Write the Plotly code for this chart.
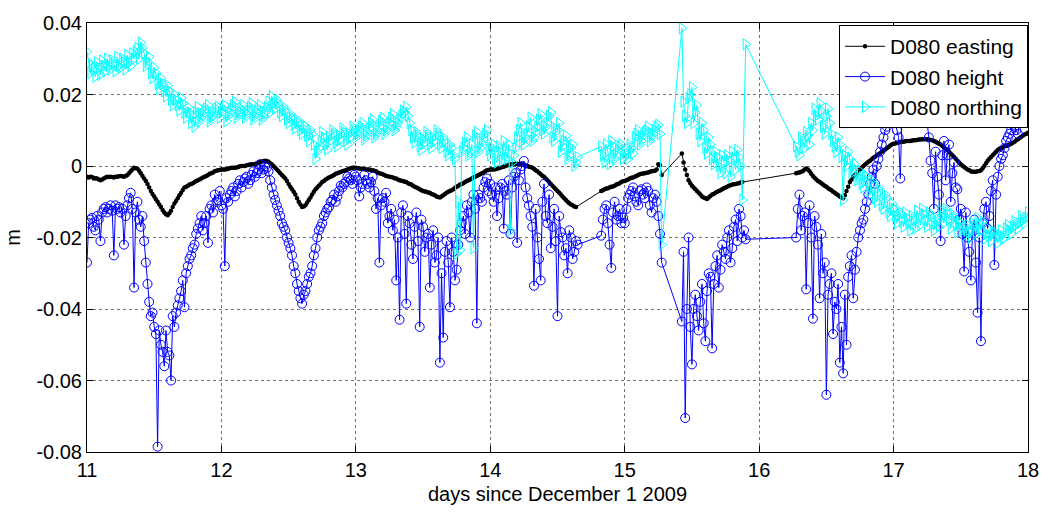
import plotly.graph_objects as go

# GPS station D080 displacement in millimetres. Each series is stored as one row per day
# (days 11..17) at 0.025-day epochs, plus a second set of rows at the half-step epochs
# in between. None marks epochs without a solution.
first_day = 11
step_days = 0.025

easting_mm = [
    [-3, -3, -3.5, -3.5, -4, -3.5, -3, -3, -3.2, -3, -2.8, -3, -2.5, -1.5, -0.5, -0.8, -2, -3.5, -5, -7,
     -8.5, -10, -11.5, -13, -13.8, -12.5, -10.5, -9, -7.5, -6, -5.5, -5, -4.5, -4, -3.5, -3, -2.5, -2, -1.5, -1.2],
    [-1, -1, -0.8, -0.5, -0.5, -0.3, 0, 0, 0.3, 0.5, 0.5, 1, 1.2, 1.5, 1.2, 0.5, -0.5, -1.5, -2.5, -3.5,
     -5, -6.5, -8, -10, -11.5, -11, -9.5, -8, -6.5, -5.5, -4.5, -3.8, -3.2, -2.8, -2.2, -1.8, -1.5, -1.2, -0.8, -0.5],
    [-0.5, -0.7, -0.8, -1, -1, -1.2, -1.5, -2, -2.3, -2.8, -3, -3.2, -3.5, -4, -4.2, -4.5, -5, -5.5, -6, -6.5,
     -7, -7.2, -7.5, -8, -8.5, -8.8, -8.2, -7.5, -7, -6.5, -5.8, -5.2, -4.8, -4.2, -3.8, -3.2, -2.8, -2.3, -1.8, -1.2],
    [-1, -1, -0.8, -0.5, -0.2, 0.2, 0.5, 0.5, 0.6, 0.5, 0.3, 0, -0.3, -0.8, -1.5, -2.3, -3, -4, -5, -6,
     -7, -8, -9, -10, -10.8, -11.3, None, None, None, None, None, None, None, -7, -6.5, -6.2, -5.8, -5.5, -5, -4.5],
    [-4.2, -3.8, -3.3, -3, -2.5, -2.2, -2, -1.8, -1.5, -1.3, 0.5, -2.5, None, None, None, None, None, 3.5, -1, -4,
     -5.5, -6.5, -7.5, -8.5, -9, -8.8, -8, -7.5, -7, -6.5, -6, -5.5, -5.2, -5, -4.8, -4.5, None, None, None, None],
    [None, None, None, None, None, None, None, None, None, None, None, -2, -1.8, -1.5, -0.7, -1.5, -2.8, -3.8, -4.5, -5.2,
     -5.8, -6.5, -7.2, -7.8, -8.5, -9, -7, -4.5, -3, -2, -1, 0, 0.8, 1.5, 2.3, 3, 3.6, 4.3, 5, 5.7],
    [6.2, 6.5, 6.7, 6.8, 7, 7, 7.2, 7.3, 7.4, 7.5, 7.5, 7.3, 7, 6.5, 6, 5.2, 4.5, 3.5, 2.5, 1.5,
     0.5, -0.3, -1, -1.5, -1.6, -1.5, -1.2, 0, 1.5, 2.5, 3.5, 4.5, 5, 5.5, 5.8, 6.2, 6.8, 7.5, 8.2, 8.8],
    [9.3],
]

easting_mid_mm = [
    [-3.2, -3.1, -3.4, -3.8, -3.8, -3.2, -3.1, -3.1, -3, -2.9, -2.9, -2.8, -2, -1, -0.6, -1.3, -2.8, -4.2, -6, -7.8,
     -9.3, -10.8, -12.3, -13.5, -13.2, -11.5, -9.8, -8.2, -6.7, -5.8, -5.2, -4.8, -4.2, -3.8, -3.2, -2.8, -2.2, -1.8, -1.3, -1.1],
    [-1, -0.9, -0.6, -0.5, -0.4, -0.1, 0, 0.2, 0.4, 0.5, 0.8, 1.1, 1.4, 1.4, 0.8, 0, -1, -2, -3, -4.2,
     -5.8, -7.2, -9, -10.8, -11.3, -10.2, -8.8, -7.2, -6, -5, -4.2, -3.5, -3, -2.5, -2, -1.7, -1.3, -1, -0.6, -0.5],
    [-0.6, -0.8, -0.9, -1, -1.1, -1.3, -1.8, -2.2, -2.5, -2.9, -3.1, -3.4, -3.8, -4.1, -4.4, -4.8, -5.2, -5.8, -6.2, -6.8,
     -7.1, -7.4, -7.8, -8.2, -8.7, -8.5, -7.8, -7.2, -6.8, -6.1, -5.5, -5, -4.5, -4, -3.5, -3, -2.5, -2, -1.5, -1.1],
    [-1, -0.9, -0.6, -0.3, 0, 0.3, 0.5, 0.6, 0.5, 0.4, 0.1, -0.2, -0.5, -1.2, -1.9, -2.7, -3.5, -4.5, -5.5, -6.5,
     -7.5, -8.5, -9.5, -10.4, -11, -11.5, None, None, None, None, None, None, None, -6.8, -6.3, -6, -5.7, -5.2, -4.8, -4.3],
    [-4, -3.5, -3.2, -2.8, -2.3, -2.1, -1.9, -1.6, -1.4, -1, 0.2, None, None, None, None, None, None, 1, -2.5, -4.8,
     -6, -7, -8, -8.8, -9.2, -8.4, -7.8, -7.2, -6.8, -6.2, -5.8, -5.4, -5.1, -4.9, -4.6, None, None, None, None, None],
    [None, None, None, None, None, None, None, None, None, None, None, -1.9, -1.6, -1, -1, -2.2, -3.3, -4.2, -4.8, -5.5,
     -6.2, -6.8, -7.5, -8.2, -8.8, -8.2, -5.8, -3.8, -2.5, -1.5, -0.5, 0.4, 1.2, 1.9, 2.6, 3.3, 4, 4.6, 5.3, 6],
    [6.3, 6.6, 6.8, 6.9, 7, 7.1, 7.2, 7.4, 7.5, 7.5, 7.4, 7.2, 6.8, 6.2, 5.6, 4.8, 4, 3, 2, 1,
     0.1, -0.6, -1.2, -1.6, -1.6, -1.4, -0.6, 0.8, 2, 3, 4, 4.8, 5.2, 5.6, 6, 6.5, 7.2, 7.8, 8.5, 9],
]

height_mm = [
    [-27, -15, -17, -14, -21, -12, -13, -11, -25, -12, -13, -22, -11, -7.5, -34, -10, -17, -21, -33, -42,
     -45, -78.5, -50, -56, -52, -60, -45, -39, -35, -39.5, -28, -25, -22, -17.5, -14, -16, -21.5, -11, -8, -9.5],
    [-11, -28, -10, -7, -8.5, -5, -6, -3.5, -5, -2.5, -3, -1, -2, 0, -1.5, -6, -9.5, -12.5, -16, -18,
     -21.5, -25, -30, -35, -38.5, -35, -31, -28, -23, -18, -16, -13, -11.5, -9.5, -10, -7, -6, -4.5, -3.5, -5],
    [-3, -8.5, -5, -4, -6, -3, -12, -27, -9, -7.5, -14, -18, -32, -43, -11, -38.5, -16, -26, -13, -45,
     -17, -20, -34, -18, -25, -55, -48, -21, -39.5, -24, -29, -18, -14, -11, -20, -8, -44, -9, -6, -3.5],
    [-5, -10, -14, -6, -17.5, -8, -19, -3, -21.5, -1, 1.4, -9, -14, -33.5, -20, -32, -5, -16, -23, -12,
     -42, -18.5, -25, -30, -20, -24, -22, None, None, None, None, None, None, -19.5, -12, -16, -28.5, -10, -14, -16],
    [-16, -9, -7, -8.5, -11, -6.5, -9, -7, -13, -8, -14, -27, None, None, None, None, None, -43.5, -70.5, -20,
     -55.5, -36, -46, -33, -49, -30, -51, -28, -34, -22, -26, -18, -23, -15, -12, -20, -20.5, None, None, None],
    [None, None, None, None, None, None, None, None, None, None, None, -20, -8, -14, -34.5, -11, -42.7, -17, -37, -30,
     -64, -33, -47, -40, -55, -58, -50, -28, -37, -24, -18, -15, -10, -5, -1, 0, 4, 8, 11, 13],
    [13, 10, -3.5, 14, 13, 15, 14, 13, 15, 13.5, 12, 1.5, -12, -3, -21, 7, 3, -10, 1, -6.5,
     -12, -29.5, -20, -32, -15, -41, -49, -12, -17.5, -7, -27.7, -3, 2, 5, 8, 10, 11, 9, 13, 14],
    [16],
]

height_mid_mm = [
    [-16, -14.5, -18, -15, -13, -11.5, -12, -12.5, -11, -11.5, -12, -14, -9, -12, -13, -15, -14, -27, -38, -41,
     -47, -46, -52, -46, -53, -42, -41, -37, -32, -30, -26, -23, -19, -16, -18, -14, -12, -13, -10, -7],
    [-12, -9, -8, -6, -7, -4, -4.5, -3, -4, -1.5, -2, 0.5, -1, -0.5, -4, -8, -11, -14, -17, -20,
     -23, -28, -33, -37, -36, -33, -30, -25, -20, -17, -14, -12, -10, -8, -8.5, -5.5, -5, -3, -4, -2.5],
    [-4, -6, -2.5, -5, -4.5, -7, -9, -11, -10, -16, -12, -15, -20, -13, -19, -14, -22, -17, -21, -15,
     -24, -19, -22, -27, -20, -30, -24, -27, -20, -32, -22, -16, -19, -13, -10, -12, -8, -10, -4.5, -7],
    [-8, -6, -9, -5, -7, -4, -6, -2, -4, 0, -6, -11, -17, -12, -26, -10, -14, -8, -17, -21,
     -14, -20, -23, -18, -26, -21, None, None, None, None, None, None, None, -15, -11, -22, -13, -15, -12, -14.5],
    [-12, -8, -6, -10, -7, -8, -6, -11, -9, -10, -19, None, None, None, None, None, None, -24, -40, -45,
     -40, -42, -38, -44, -35, -31, -33, -25, -29, -24, -20, -27, -17, -21, -14, -18, None, None, None, None],
    [None, None, None, None, None, None, None, None, None, None, None, -12, -18, -13, -16, -20, -14, -22, -19, -27,
     -36, -30, -38, -33, -45, -36, -31, -25, -29, -20, -16, -12, -8, -3, -5, 2, 6, 10, 12, 14],
    [12, 8, 14.5, 12.5, 14, 15.5, 13, 14.5, 14, 15, 8, -2, 4, -8, 3, -4, 6, -2, -6, -15,
     -19, -13, -24, -18, -27, -20, -16, -10, -14, -4, -8, 0, 3, 7, 9, 11.5, 10, 12, 15, 12],
]

northing_mm = [
    [32, 26, 27, 29, 25.5, 28, 30, 27, 28.5, 30.5, 27.5, 29, 31, 28, 30, 33, 34.5, 31.5, 29, 26,
     27.5, 23, 24.5, 21, 22.5, 18.5, 20, 17, 19, 15, 16.5, 12, 11, 16.5, 13.5, 15.5, 17, 13.5, 15, 16.5],
    [15, 17, 14, 16, 18, 14.5, 16, 13.5, 15.5, 17.5, 14, 16, 13, 15, 18, 19.5, 16, 17.5, 14, 15.5,
     12, 13.5, 10.5, 12, 9, 11, 7, 9, 2, 5, 9.5, 6, 8, 10, 6.5, 8.5, 10.5, 7, 9, 11],
    [8, 10, 12, 8.5, 10.5, 13, 9, 11, 13.5, 10, 12, 14.5, 11, 13, 15.5, 16.5, 12, 8, 9.5, 5.5,
     7.5, 9.5, 6, 8, 10, 6, 8, 4, 6, 3, -24.5, -23.5, 5, 8, 4, -23, 9.5, 5, 7.5, 10],
    [3, 6, 1, 4, 7, 2, -18, 3, 8, 12, 6, 9, 13.5, 8, 11, 14.5, 9, 12, 15, 7,
     10, 4, 7, 2, 5, 0, 2.5, None, None, None, None, None, None, 5.5, 1, 4, 7, 2, 4.5, 6],
    [4, 2, 5, 8, 10, 7, 9.5, 11, 8, 10, 11.5, -22, None, None, None, None, None, 38.5, 14, 19,
     22, 15, 9, 12, 5, 8, 2, 4, 0, 3, -2, 1.5, 4, -1, 2.5, -9.5, 34, None, None, None],
    [None, None, None, None, None, None, None, None, None, None, None, 5.5, 3, 7, 9.5, 6, 10, 14, 17.5, 11,
     14, 12, 7, 4, 6, -9.5, 0, 2, -1, -4, -1.5, -6, -3, -8, -5, -10, -7, -12, -9, -14],
    [-12, -16, -13.5, -17, -14.5, -18, -15, -12.5, -16.5, -13.5, -17, -14, -18, -15.5, -12.5, -16, -13, -17.5, -14.5, -18.5,
     -16, -19.5, -16.5, -20, -17, -14.5, -18, -20.5, -17.5, -21, -18.5, -21.5, -18, -20, -16.5, -19, -15.5, -17.5, -14, -16],
    [-13],
]

northing_mid_mm = [
    [29, 28, 25, 27.5, 29.5, 26.5, 28, 29.5, 26.5, 28, 30, 27, 29, 31.5, 32, 30, 33, 28, 30.5, 24.5,
     26, 21.5, 23, 19.5, 21, 17, 18.5, 15.5, 17.5, 13.5, 15, 14, 15, 12.5, 14.5, 16, 12.5, 14, 16, 13.5],
    [16, 12.5, 15, 17, 13.5, 15, 17, 14.5, 16.5, 13, 15, 17, 14, 16.5, 15, 17.5, 18.5, 15, 16.5, 13,
     14.5, 11.5, 13, 10, 11.5, 8.5, 10, 6, 4, 7, 8, 4.5, 7, 9, 5.5, 7.5, 9.5, 6, 8, 10],
    [9, 11, 7.5, 9.5, 12, 8, 10, 12.5, 9, 11, 13.5, 10, 12, 14, 15, 14, 10, 6.5, 8.5, 4.5,
     6.5, 8.5, 5, 7, 9, 5, 7, 3, 5, 2, -10, 4, 6.5, 3, 6, 8.5, 4, 6.5, 9, 4.5],
    [5, 2, 5.5, 1.5, 4.5, 6, 1, 5, 10, 7, 8, 11, 7, 9.5, 13, 10, 11, 14, 8, 10.5,
     12, 5.5, 8.5, 3, 6, 1, None, None, None, None, None, None, None, 3, 6, 0.5, 5.5, 3, 5.5, 2],
    [3, 6, 3.5, 9, 6, 8.5, 10, 7, 9, 11, 9, None, None, None, None, None, None, 18, 12, 20,
     12, 17, 7, 10, 3.5, 6, 0.5, 2.5, -2, 1, 3, -3, 2, 4.5, 0, None, None, None, None, None],
    [None, None, None, None, None, None, None, None, None, None, None, 4, 8, 5, 8.5, 12, 16, 13, 15.5, 9,
     16, 9, 5.5, 8, 2.5, 3, 4, -2, 0.5, -3, -5, -2.5, -7, -4, -9, -6, -11, -8, -13, -10.5],
    [-14, -12.5, -15.5, -13, -16, -14, -17.5, -14.5, -12, -15, -13, -16.5, -14.5, -17, -14, -12, -15, -13.5, -16.5, -15.5,
     -18, -17, -18.5, -16, -19, -16, -15.5, -19, -19.5, -18.5, -20, -19.5, -20.5, -17.5, -18, -17, -16.5, -16, -15, -14.5],
]

y_ticks = [-0.08, -0.06, -0.04, -0.02, 0, 0.02, 0.04]
y_tick_text = ["-0.08", "-0.06", "-0.04", "-0.02", "0", "0.02", "0.04"]
x_ticks = [11, 12, 13, 14, 15, 16, 17, 18]


def to_points(rows, offset):
    """Per-day rows -> list of (day, metres) pairs."""
    pts = []
    for i, row in enumerate(rows):
        for k, v in enumerate(row):
            day = round(first_day + i + offset + k * step_days, 5)
            pts.append((day, None if v is None else v / 1000.0))
    return pts


def merged(main_rows, mid_rows):
    pts = to_points(main_rows, 0.0) + to_points(mid_rows, step_days / 2)
    pts.sort(key=lambda p: p[0])
    return [p[0] for p in pts], [p[1] for p in pts]


FONT = "Liberation Sans, Arial, sans-serif"

fig = go.Figure()

series = [
    ("D080 easting", easting_mm, easting_mid_mm, "#000000",
     dict(symbol="circle", size=4.5, color="#000000")),
    ("D080 height", height_mm, height_mid_mm, "#0000ff",
     dict(symbol="circle-open", size=9, color="#0000ff", line=dict(width=1, color="#0000ff"))),
    ("D080 northing", northing_mm, northing_mid_mm, "#00ffff",
     dict(symbol="triangle-right-open", size=10, color="#00ffff", line=dict(width=1, color="#00ffff"))),
]

for name, rows, mids, color, marker in series:
    d, v = merged(rows, mids)
    fig.add_trace(go.Scatter(
        x=d, y=v, name=name, mode="lines+markers",
        line=dict(color=color, width=1), marker=marker,
        connectgaps=True,
    ))

axis_common = dict(
    showline=True, linecolor="black", linewidth=1, mirror="ticks",
    ticks="inside", ticklen=6, tickcolor="black",
    showgrid=True, gridcolor="rgba(0,0,0,0.55)", griddash="dot", gridwidth=1,
    zeroline=False,
    tickfont=dict(family=FONT, size=20, color="black"),
)

fig.update_xaxes(
    range=[11, 18], tickvals=x_ticks, ticktext=[str(t) for t in x_ticks],
    title=dict(text="days since December 1 2009", font=dict(family=FONT, size=20, color="black"), standoff=6),
    **axis_common,
)
fig.update_yaxes(
    range=[-0.08, 0.04], tickvals=y_ticks, ticktext=y_tick_text,
    title=dict(text="m", font=dict(family=FONT, size=20, color="black"), standoff=10),
    **axis_common,
)

fig.update_layout(
    width=1051, height=513,
    margin=dict(l=87, r=13, t=18, b=57),
    paper_bgcolor="white", plot_bgcolor="white",
    font=dict(family=FONT, color="black"),
    showlegend=True,
    legend=dict(
        x=1.0, y=0.995, xanchor="right", yanchor="top",
        bgcolor="white", bordercolor="black", borderwidth=1,
        font=dict(family=FONT, size=21, color="black"),
        tracegroupgap=0, itemwidth=40,
    ),
)

fig.write_html("out.html")
